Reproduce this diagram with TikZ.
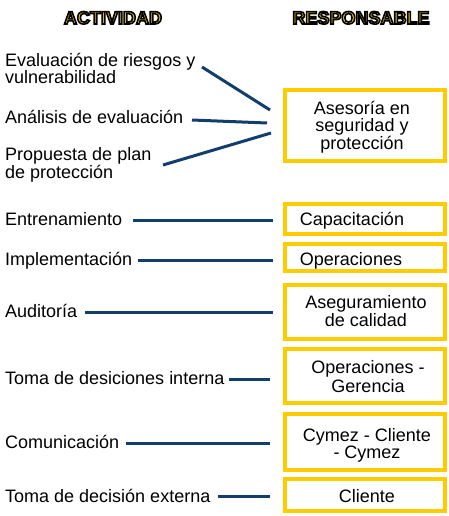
\documentclass[tikz,border=0pt]{standalone}
\usepackage{fontspec}
\setmainfont{Liberation Sans}
\definecolor{boxyellow}{HTML}{FFCC00}
\definecolor{linenavy}{HTML}{123E6C}
\newcommand{\outlinedhead}[1]{\special{pdf:literal q 2 Tr 1.6 w 0 0 0 RG 1 0.8 0 rg}#1\special{pdf:literal Q}}
\begin{document}
\begin{tikzpicture}[x=1pt,y=-1pt,
  head/.style={anchor=base,inner sep=0,font=\fontsize{18}{18}\selectfont\bfseries},
  act/.style={anchor=base west,inner sep=0,align=left,font=\fontsize{18}{16}\selectfont},
  respbox/.style={draw=boxyellow,line width=4pt,minimum width=160pt,inner sep=0},
  resptext/.style={anchor=base,inner sep=0,align=center,font=\fontsize{18}{17.5}\selectfont},
  conn/.style={draw=linenavy,line width=3pt}]
\useasboundingbox (0,0) rectangle (449,516);
% headers
\node[head] (h1) at (113,24) {\outlinedhead{ACTIVIDAD}};
\node[head] (h2) at (361,24) {\outlinedhead{RESPONSABLE}};
% activities (base = last line)
\node[act] (t1) at (5,84) {Evaluación de riesgos y\\vulnerabilidad};
\node[act] (t2) at (5,123) {Análisis de evaluación};
\node[act] (t3) at (5,178) {Propuesta de plan\\de protección};
\node[act] (t4) at (5,225) {Entrenamiento};
\node[act] (t5) at (5,265) {Implementación};
\node[act] (t6) at (5,317) {Auditoría};
\node[act] (t7) at (5,384) {Toma de desiciones interna};
\node[act] (t8) at (5,448) {Comunicación};
\node[act] (t9) at (5,502) {Toma de decisión externa};
% responsible boxes
\node[respbox,minimum height=71pt] (b1) at (365,125.5) {};
\node[respbox,minimum height=30pt] (b2) at (365,219) {};
\node[respbox,minimum height=27pt] (b3) at (365,257.5) {};
\node[respbox,minimum height=54pt] (b4) at (365,312) {};
\node[respbox,minimum height=54pt] (b5) at (365,376) {};
\node[respbox,minimum height=56pt] (b6) at (365,442) {};
\node[respbox,minimum height=32pt] (b7) at (365,495) {};
% responsible texts (base = last line)
\node[resptext] (r1) at (362,149) {Asesoría en\\seguridad y\\protección};
\node[resptext] (r2) at (352,225) {Capacitación};
\node[resptext] (r3) at (351,265) {Operaciones};
\node[resptext,font=\fontsize{18}{18}\selectfont] (r4) at (366,326) {Aseguramiento\\de calidad};
\node[resptext,font=\fontsize{18}{18.5}\selectfont] (r5) at (368,392) {Operaciones -\\Gerencia};
\node[resptext,font=\fontsize{18}{17}\selectfont] (r6) at (367,458) {Cymez - Cliente\\- Cymez};
\node[resptext] (r7) at (367,502) {Cliente};
% connectors
\coordinate (s1) at (202,67);
\coordinate (s2) at (192,120);
\coordinate (s3) at (163,165);
\draw[conn] (s1) -- ([shift={(-13,-15.5)}]b1.west);
\draw[conn] (s2) -- ([shift={(-16,-2.5)}]b1.west);
\draw[conn] (s3) -- ([shift={(-12,7.5)}]b1.west);
\path ([shift={(11,-5)}]t4.base east) coordinate (s4);
\path ([shift={(6,-5)}]t5.base east) coordinate (s5);
\path ([shift={(8,-5)}]t6.base east) coordinate (s6);
\path ([shift={(4,-5)}]t7.base east) coordinate (s7);
\path ([shift={(7,-5)}]t8.base east) coordinate (s8);
\path ([shift={(7,-6)}]t9.base east) coordinate (s9);
\draw[conn] (s4) -- ([xshift=-10pt]b2.west |- s4);
\draw[conn] (s5) -- ([xshift=-10pt]b3.west |- s5);
\draw[conn] (s6) -- ([xshift=-10pt]b4.west |- s6);
\draw[conn] (s7) -- ([xshift=-13pt]b5.west |- s7);
\draw[conn] (s8) -- ([xshift=-13pt]b6.west |- s8);
\draw[conn] (s9) -- ([xshift=-13pt]b7.west |- s9);
\end{tikzpicture}
\end{document}
